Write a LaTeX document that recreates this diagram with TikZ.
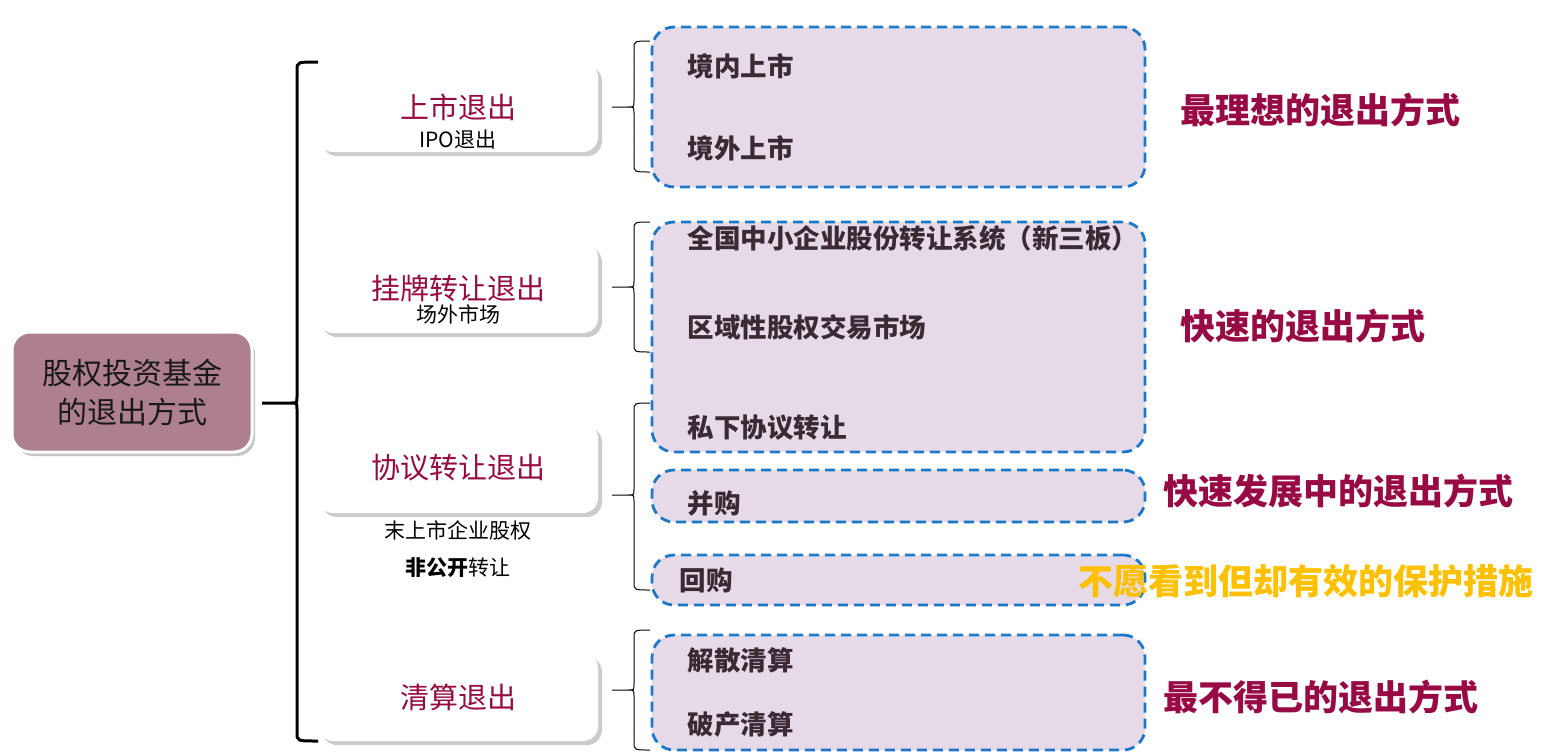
\documentclass[tikz,border=0pt]{standalone}
\usepackage{fontspec}
\newfontfamily\cjk{Noto Sans CJK SC}
\usetikzlibrary{shadows}

\definecolor{fundrose}{RGB}{174,128,142}
\definecolor{itemlilac}{RGB}{230,218,232}
\definecolor{dashblue}{RGB}{30,120,200}
\definecolor{waycrimson}{RGB}{150,12,64}
\definecolor{notecrimson}{RGB}{152,10,68}
\definecolor{noteamber}{RGB}{255,192,0}
\definecolor{itemink}{RGB}{58,42,52}

\tikzset{
  fundbox/.style={draw=white, line width=3pt, fill=fundrose, rounded corners=18pt,
    minimum width=240pt, minimum height=120pt, align=center,
    font=\cjk\fontsize{30}{39}\selectfont, text=black!90,
    drop shadow={opacity=0.45, shadow xshift=3pt, shadow yshift=-4pt}},
  waybox/.style={fill=white, rounded corners=15pt, minimum width=280pt, minimum height=90pt,
    font=\cjk\fontsize{29}{32}\selectfont, text=waycrimson,
    drop shadow={opacity=0.4, shadow xshift=4pt, shadow yshift=-4pt}},
  subnote/.style={font=\cjk\fontsize{21}{25}\selectfont, text=black},
  itemarea/.style={draw=dashblue, line width=2.8pt, dash pattern=on 10pt off 6pt,
    fill=itemlilac, rounded corners=22pt, minimum width=493pt},
  itemtxt/.style={anchor=west, font=\cjk\bfseries\fontsize{26.5}{30}\selectfont, text=itemink},
  verdict/.style={anchor=west, font=\cjk\bfseries\fontsize{35}{40}\selectfont, text=notecrimson},
  bigbrace/.style={line width=3pt, black},
  smallbrace/.style={line width=1pt, black}
}

% #2 spine x, #3 top, #4 bottom, #5 tip y, #6 tip x, #7 end x
\newcommand{\curlybrace}[7][smallbrace]{%
  \draw[#1] (#7,#3) .. controls (#2,#3) .. (#2,#3+8) -- (#2,#5-6)
    .. controls (#2,#5) .. (#2-6,#5) -- (#6,#5)
    (#2-6,#5) .. controls (#2,#5) .. (#2,#5+6) -- (#2,#4-8)
    .. controls (#2,#4) .. (#7,#4);}

\begin{document}
\begin{tikzpicture}[x=1pt,y=-1pt]
  \useasboundingbox (0,0) rectangle (1558,755);

  % fund
  \node[fundbox] (fund) at (132,392) {股权投资基金\\的退出方式};
  \curlybrace[bigbrace]{297}{62}{741}{403}{262}{318}

  % exit routes
  \node[waybox] (ipo) at (458,107) {上市退出};
  \node[subnote] (ipo-sub) at (458,140) {IPO退出};
  \node[waybox] (otc) at (458,288) {挂牌转让退出};
  \node[subnote] (otc-sub) at (458,314) {场外市场};
  \node[waybox] (deal) at (458,468) {协议转让退出};
  \node[subnote] (deal-sub) at (458,530) {末上市企业股权};
  \node[subnote] (deal-sub2) at (458,568) {{\bfseries 非公开}转让};
  \node[waybox, minimum height=88pt] (liq) at (458,697) {清算退出};

  % braces to the ways
  \curlybrace{634}{41}{172}{107}{612}{650}
  \curlybrace{634}{222}{352}{287}{612}{650}
  \curlybrace{634}{403}{590}{495}{612}{650}
  \curlybrace{634}{630}{750}{690}{612}{650}

  % ways
  \node[itemarea, minimum height=160pt] (listed) at (898.5,107) {};
  \node[itemarea, minimum height=230pt] (board) at (898.5,337) {};
  \node[itemarea, minimum height=52pt] (merge) at (898.5,496) {};
  \node[itemarea, minimum height=50pt] (buyback) at (898.5,580) {};
  \node[itemarea, minimum height=115pt] (wind) at (898.5,692.5) {};

  \node[itemtxt] (home) at (684,66) {境内上市};
  \node[itemtxt] (abroad) at (684,148) {境外上市};
  \node[itemtxt] (neeq) at (684,238) {全国中小企业股份转让系统（新三板）};
  \node[itemtxt] (region) at (684,327) {区域性股权交易市场};
  \node[itemtxt] (private) at (684,428) {私下协议转让};
  \node[itemtxt] (ma) at (684,503) {并购};
  \node[itemtxt] (rebuy) at (676,580) {回购};
  \node[itemtxt] (dissolve) at (684,660) {解散清算};
  \node[itemtxt] (bankrupt) at (684,724) {破产清算};

  % verdicts
  \node[verdict] (best) at (1177,110) {最理想的退出方式};
  \node[verdict] (fast) at (1177,326) {快速的退出方式};
  \node[verdict] (growing) at (1160,491) {快速发展中的退出方式};
  \node[verdict, text=noteamber] (guard) at (1075,581) {不愿看到但却有效的保护措施};
  \node[verdict] (last) at (1160,697) {最不得已的退出方式};
\end{tikzpicture}
\end{document}
